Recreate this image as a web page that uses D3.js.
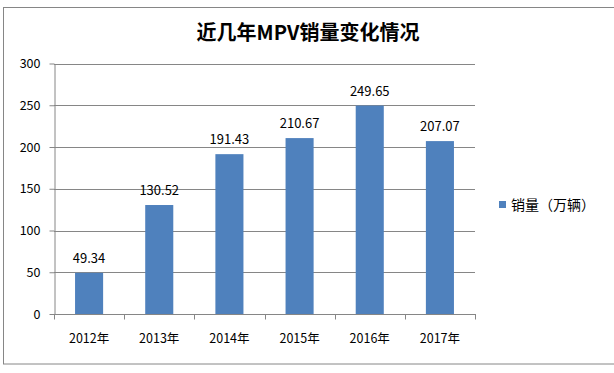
<!DOCTYPE html>
<html><head><meta charset="utf-8">
<script src="https://cdn.jsdelivr.net/npm/d3@7"></script>
<style>body{margin:0;background:#fff}svg{display:block}</style>
</head><body>
<script>
const categories = ["2012年","2013年","2014年","2015年","2016年","2017年"];
const sales = [49.34,130.52,191.43,210.67,249.65,207.07];
const yTicks = [0,50,100,150,200,250,300];
const seriesName = "销量（万辆）";
const title = "近几年MPV销量变化情况";

(function(){
const W=614,H=373;
const font = "'Noto Sans CJK SC','Noto Sans',sans-serif";
const svg = d3.select("body").append("svg").attr("width",W).attr("height",H);
svg.append("rect").attr("x",3.5).attr("y",7.5).attr("width",620).attr("height",356.5)
  .attr("fill","#fff").attr("stroke","#868686").attr("stroke-width",1);

const pLeft=54, pRight=475, pTop=63.5, pBottom=314;
const x = d3.scaleBand().domain(categories).range([pLeft,pRight]).paddingInner(0.6).paddingOuter(0.3);
const y = d3.scaleLinear().domain([0,300]).range([pBottom,pTop]);

// gridlines
svg.append("g").selectAll("line").data(yTicks.filter(d=>d>0)).join("line")
  .attr("x1",pLeft).attr("x2",pRight).attr("y1",d=>Math.round(y(d))+0.5).attr("y2",d=>Math.round(y(d))+0.5)
  .attr("stroke","#868686");

// y axis
const ya = svg.append("g").attr("transform",`translate(${pLeft+0.5},0)`)
  .call(d3.axisLeft(y).tickValues(yTicks).tickSize(5).tickSizeOuter(0));
ya.select(".domain").attr("stroke","#868686");
ya.selectAll(".tick line").attr("stroke","#868686");
ya.selectAll(".tick text").attr("font-family",font).attr("font-size",12.5).attr("fill","#000").attr("x",-14);

// bars
svg.append("g").selectAll("rect").data(sales).join("rect")
  .attr("x",(d,i)=>x(categories[i])).attr("width",x.bandwidth())
  .attr("y",d=>y(d)).attr("height",d=>pBottom-y(d)).attr("fill","#4F81BD");

// x axis
const xb = d3.scaleLinear().domain([0,categories.length]).range([pLeft,pRight]);
const xa = svg.append("g").attr("transform",`translate(0,${pBottom+0.5})`);
xa.append("line").attr("x1",pLeft).attr("x2",pRight+1).attr("stroke","#868686");
xa.selectAll(".tk").data(d3.range(categories.length+1)).join("line").attr("class","tk")
  .attr("x1",d=>Math.round(xb(d))+0.5).attr("x2",d=>Math.round(xb(d))+0.5).attr("y1",0).attr("y2",5).attr("stroke","#868686");
xa.selectAll(".lb").data(categories).join("text").attr("class","lb")
  .attr("x",d=>x(d)+x.bandwidth()/2).attr("y",28).attr("text-anchor","middle")
  .attr("font-family",font).attr("font-size",12.5).text(d=>d);

// value labels
svg.append("g").selectAll("text").data(sales).join("text")
  .attr("x",(d,i)=>x(categories[i])+x.bandwidth()/2).attr("y",d=>y(d)-10)
  .attr("text-anchor","middle").attr("font-family",font).attr("font-size",13)
  .text(d=>d.toFixed(2));

// title
svg.append("text").attr("x",308).attr("y",40).attr("text-anchor","middle")
  .attr("font-family",font).attr("font-size",20).attr("font-weight","bold").text(title);

// legend
svg.append("rect").attr("x",499).attr("y",201).attr("width",7).attr("height",7).attr("fill","#4F81BD");
svg.append("text").attr("x",511).attr("y",210).attr("font-family",font).attr("font-size",14).text(seriesName);
})();
</script>
</body></html>
